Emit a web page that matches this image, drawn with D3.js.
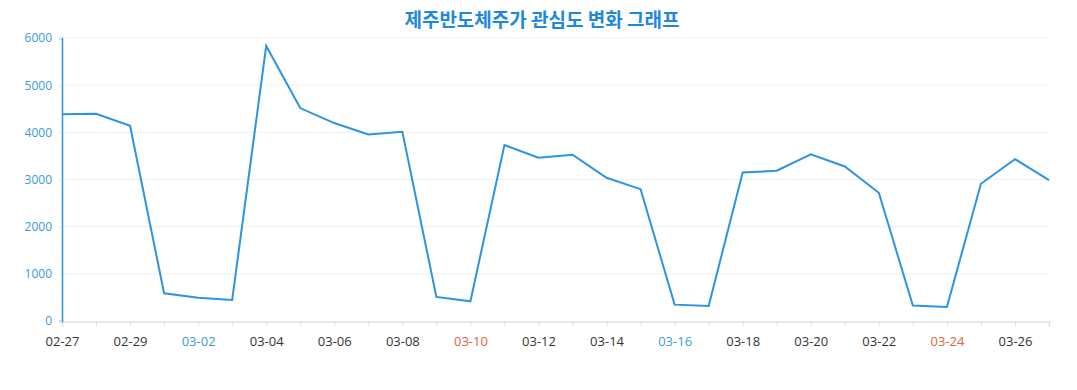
<!DOCTYPE html>
<html><head><meta charset="utf-8">
<script src="https://cdn.jsdelivr.net/npm/d3@7"></script>
<style>
html,body{margin:0;padding:0;background:#fff;}
svg{display:block;font-family:"Noto Sans","Noto Sans CJK KR",sans-serif;}
</style></head>
<body><svg id="c" width="1077" height="390"></svg>
<script>
const titleText = "제주반도체주가 관심도 변화 그래프";
const dates = ["02-27","02-28","02-29","03-01","03-02","03-03","03-04","03-05","03-06","03-07","03-08","03-09","03-10","03-11","03-12","03-13","03-14","03-15","03-16","03-17","03-18","03-19","03-20","03-21","03-22","03-23","03-24","03-25","03-26","03-27"];
const values = [4381,4395,4140,587,495,446,5832,4515,4197,3956,4013,510,418,3730,3461,3524,3036,2795,347,318,3149,3185,3532,3277,2718,326,297,2909,3432,2987];
const yTicks = [0,1000,2000,3000,4000,5000,6000];
const saturdayLabels = ["03-02","03-16"];
const sundayLabels = ["03-10","03-24"];

const svg = d3.select("#c");
const m = {left:62, right:1049, top:38, bottom:321};
const x = d3.scalePoint().domain(dates).range([m.left, m.right]);
const y = d3.scaleLinear().domain([0,6000]).range([m.bottom, m.top]);

// gridlines
svg.append("g").selectAll("line").data(yTicks.filter(d=>d>0)).join("line")
  .attr("x1", m.left).attr("x2", m.right)
  .attr("y1", d=>y(d)).attr("y2", d=>y(d))
  .attr("stroke","#f0f0f0").attr("stroke-width",1);

// x axis
const xa = svg.append("g").attr("transform",`translate(0,${m.bottom+0.5})`)
  .call(d3.axisBottom(x).tickSize(5).tickPadding(10)
    .tickFormat((d,i)=> i%2===0 ? d : ""));
xa.select(".domain").attr("stroke","#e0e0e0").attr("stroke-width",1.5);
xa.selectAll(".tick line").attr("stroke","#e0e0e0");
xa.selectAll(".tick text").attr("font-size",13)
  .attr("font-family","'Open Sans','Noto Sans',sans-serif")
  .attr("fill", d=> saturdayLabels.includes(d) ? "#3a9ad9" : sundayLabels.includes(d) ? "#e0603f" : "#333");

// y axis
const ya = svg.append("g").attr("transform",`translate(${m.left},0)`)
  .call(d3.axisLeft(y).tickValues(yTicks).tickSize(3).tickPadding(7).tickFormat(d3.format("d")));
ya.select(".domain").attr("stroke","#2b90de").attr("stroke-width",1.5);
ya.selectAll(".tick line").attr("stroke","#d8e4ef");
ya.selectAll(".tick text").attr("font-size",12)
  .attr("font-family","'Open Sans','Noto Sans',sans-serif")
  .attr("fill","#3a9ad9");

// line
svg.append("path").datum(values)
  .attr("fill","none").attr("stroke","#2d93e2").attr("stroke-width",2)
  .attr("stroke-linejoin","miter")
  .attr("d", d3.line().x((d,i)=>x(dates[i])).y(d=>y(d)));

// title
svg.append("text").attr("x",542).attr("y",27).attr("text-anchor","middle")
  .attr("font-size",19).attr("font-weight","bold")
  .attr("font-family","'Noto Sans CJK KR',sans-serif")
  .attr("fill","#1e88e0").text(titleText);
</script></body></html>
